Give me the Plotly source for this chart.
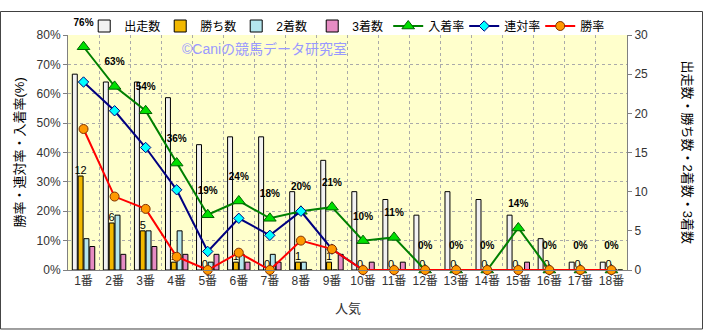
import plotly.graph_objects as go

categories = ["1番","2番","3番","4番","5番","6番","7番","8番","9番","10番",
              "11番","12番","13番","14番","15番","16番","17番","18番"]
runs    = [25,24,24,22,16,17,17,10,14,10,9,7,10,9,7,4,1,1]
wins    = [12,6,5,1,0,1,0,1,1,0,0,0,0,0,0,0,0,0]
seconds = [4,7,5,5,1,2,2,1,0,0,0,0,0,0,0,0,0,0]
thirds  = [3,2,3,2,2,1,1,0,2,1,1,0,0,0,1,0,0,0]
place_rate = [76.0,62.5,54.2,36.4,18.8,23.5,17.6,20.0,21.4,10.0,11.1,0,0,0,14.3,0,0,0]
quin_rate  = [64.0,54.2,41.7,27.3,6.3,17.6,11.8,20.0,7.1,0,0,0,0,0,0,0,0,0]
win_rate   = [48.0,25.0,20.8,4.5,0,5.9,0,10.0,7.1,0,0,0,0,0,0,0,0,0]

FONT = "Liberation Sans, Noto Sans CJK JP"
fig = go.Figure()
outline = dict(color="#000000", width=1)
fig.add_trace(go.Bar(x=categories, y=runs, name="出走数", marker=dict(color="#F2F2F2", line=outline), yaxis="y"))
fig.add_trace(go.Bar(x=categories, y=wins, name="勝ち数", marker=dict(color="#F2B800", line=outline), yaxis="y",
                     text=[str(v) for v in wins], textposition="outside", cliponaxis=False,
                     constraintext="none",
                     textfont=dict(size=11, color="#000000", family=FONT)))
fig.add_trace(go.Bar(x=categories, y=seconds, name="2着数", marker=dict(color="#B4E6EE", line=outline), yaxis="y"))
fig.add_trace(go.Bar(x=categories, y=thirds, name="3着数", marker=dict(color="#E68CC3", line=outline), yaxis="y"))

fig.add_trace(go.Scatter(x=categories, y=place_rate, name="入着率", yaxis="y2", mode="lines+markers",
                         line=dict(color="#008000", width=2), cliponaxis=False,
                         marker=dict(symbol="triangle-up", size=11, color="#00E000", line=dict(color="#006000", width=1))))
fig.add_trace(go.Scatter(x=categories, y=quin_rate, name="連対率", yaxis="y2", mode="lines+markers",
                         line=dict(color="#000080", width=2), cliponaxis=False,
                         marker=dict(symbol="diamond", size=8, color="#00FFFF", line=dict(color="#000080", width=1))))
fig.add_trace(go.Scatter(x=categories, y=win_rate, name="勝率", yaxis="y2", mode="lines+markers",
                         line=dict(color="#FF0000", width=2), cliponaxis=False,
                         marker=dict(symbol="circle", size=9, color="#FF9900", line=dict(color="#803000", width=1))))
# data labels for 入着率 (placed above the points), rounded half-up
fig.add_trace(go.Scatter(x=categories, y=place_rate, yaxis="y2", mode="markers+text", showlegend=False,
                         hoverinfo="skip", cliponaxis=False,
                         marker=dict(size=28, opacity=0),
                         text=[f"{int(v + 0.5)}%" for v in place_rate], textposition="top center",
                         textfont=dict(size=10, color="#000000", family=FONT, weight="bold")))

fig.update_layout(
    width=703, height=332,
    margin=dict(l=68, r=76, t=25, b=62),
    paper_bgcolor="#FFFFFF", plot_bgcolor="#FFFFCC",
    font=dict(family=FONT, size=12, color="#333333"),
    barmode="group", bargap=0.25, bargroupgap=0.15,
    showlegend=True,
    legend=dict(orientation="h", x=0.029, xanchor="left", y=1.1, yanchor="top",
                font=dict(size=12, color="#000000"), bgcolor="rgba(0,0,0,0)",
                traceorder="normal", itemwidth=30, entrywidth=31, entrywidthmode="pixels"),
    xaxis=dict(type="category", range=[-0.5, len(categories) - 0.5], autorange=False,
               tickson="boundaries", showgrid=True, gridcolor="#AAAAAA", griddash="dot",
               ticks="", showline=True, linecolor="#808080", linewidth=1, tickangle=0,
               tickfont=dict(size=12, color="#333333")),
    yaxis=dict(range=[0, 30], dtick=5, side="right", showgrid=False, zeroline=False,
               showline=True, linecolor="#808080", ticks="outside", ticklen=4, tickcolor="#808080",
               tickfont=dict(size=12, color="#333333")),
    yaxis2=dict(range=[0, 80], dtick=10, ticksuffix="%", side="left", overlaying="y",
                showgrid=True, gridcolor="#AAAAAA", griddash="dot", zeroline=False,
                showline=True, linecolor="#808080", ticks="outside", ticklen=4, tickcolor="#808080",
                tickfont=dict(size=12, color="#333333")),
    annotations=[
        dict(text="©Caniの競馬データ研究室", xref="paper", yref="paper", x=0.352, y=0.939,
             xanchor="center", yanchor="middle",
             showarrow=False, font=dict(size=14, color="#9999FF")),
        dict(text="勝率・連対率・入着率(%)", xref="paper", yref="paper", x=-0.0859, y=0.5,
             xanchor="center", yanchor="middle",
             textangle=-90, showarrow=False, font=dict(size=13, color="#000000")),
        dict(text="出走数・勝ち数・2着数・3着数", xref="paper", yref="paper", x=1.109, y=0.5,
             xanchor="center", yanchor="middle",
             textangle=90, showarrow=False, font=dict(size=13, color="#000000")),
        dict(text="人気", xref="paper", yref="paper", x=0.5, y=-0.163,
             xanchor="center", yanchor="middle",
             showarrow=False, font=dict(size=13, color="#333333")),
    ],
    shapes=[dict(type="rect", xref="paper", yref="paper",
                 x0=-0.1208, x1=1.1351, y0=-0.251, y1=1.1, line=dict(color="#404040", width=1))],
)

fig.write_html("out.html")
